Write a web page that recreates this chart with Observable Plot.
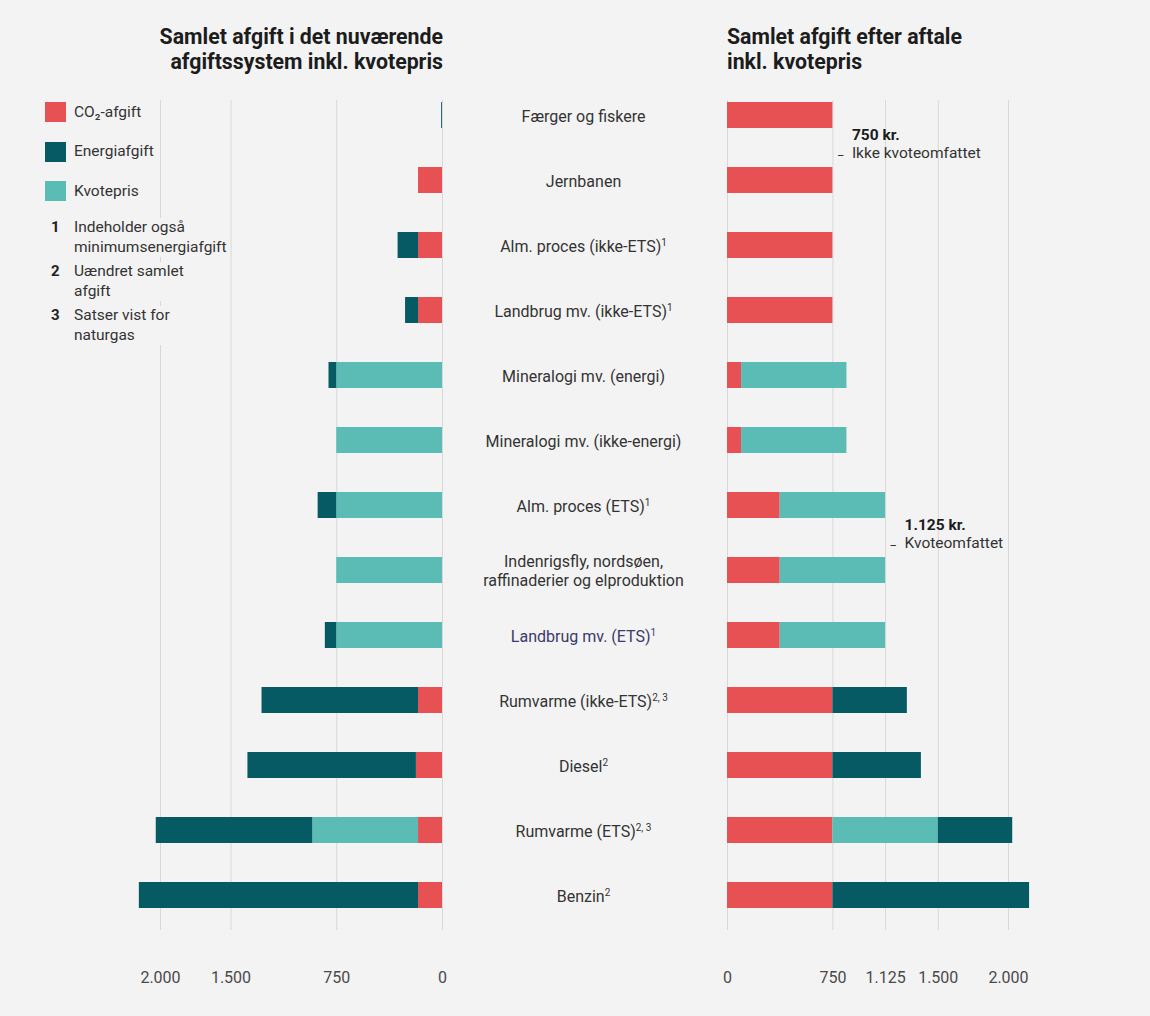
<!DOCTYPE html>
<html><head><meta charset="utf-8">
<script src="https://cdn.jsdelivr.net/npm/d3@7"></script>
<script src="https://cdn.jsdelivr.net/npm/@observablehq/plot@0.6"></script>
<style>
html,body{margin:0;padding:0;background:#f3f3f3;}
#root{position:relative;width:1150px;height:1016px;background:#f3f3f3;font-family:Roboto,sans-serif;overflow:hidden;}
.abs{position:absolute;}
.title{font-weight:700;font-size:21.3px;line-height:25px;color:#1c1c1c;white-space:pre-line;}
.lg{font-size:15.5px;color:#333;line-height:19.5px;white-space:pre-line;background:#f3f3f3;}
.num{font-size:15px;font-weight:700;color:#222;line-height:19.5px;}
.sw{width:21px;height:20px;}
</style></head><body><div id="root"></div>
<script>
// ---- data ----
const categories = [
  "Færger og fiskere", "Jernbanen", "Alm. proces (ikke-ETS)", "Landbrug mv. (ikke-ETS)",
  "Mineralogi mv. (energi)", "Mineralogi mv. (ikke-energi)", "Alm. proces (ETS)",
  "Indenrigsfly, nordsøen,\nraffinaderier og elproduktion", "Landbrug mv. (ETS)",
  "Rumvarme (ikke-ETS)", "Diesel", "Rumvarme (ETS)", "Benzin"
];
const footnotes = ["", "", "1", "1", "", "", "1", "", "1", "2, 3", "2", "2, 3", "2"];
const seriesNames = ["CO₂-afgift", "Energiafgift", "Kvotepris"];
const seriesColors = ["#e85153", "#065a63", "#5bbcb5"];

// Nuværende afgiftssystem (kr. pr. ton CO2)
const currentCO2    = [0, 170, 170, 170, 0, 0, 0, 0, 0, 170, 185, 170, 170];
const currentKvote  = [0, 0, 0, 0, 750, 750, 750, 750, 750, 0, 0, 750, 0];
const currentEnergy = [6, 0, 145, 92, 55, 0, 132, 0, 81, 1110, 1195, 1110, 1980];

// Efter aftale
const newCO2    = [750, 750, 750, 750, 100, 100, 375, 375, 375, 750, 750, 750, 750];
const newKvote  = [0, 0, 0, 0, 750, 750, 750, 750, 750, 0, 0, 750, 0];
const newEnergy = [0, 0, 0, 0, 0, 0, 0, 0, 0, 530, 630, 530, 1400];

const leftTicks = [0, 750, 1500, 2000];
const rightTicks = [0, 750, 1125, 1500, 2000];

const annotations = [
  {x: 750, cat: "Færger og fiskere", bold: "750 kr.", sub: "Ikke kvoteomfattet"},
  {x: 1125, cat: "Alm. proces (ETS)", bold: "1.125 kr.", sub: "Kvoteomfattet"}
];

const noteNumbers = ["1", "2", "3"];
const noteTexts = ["Indeholder også\nminimumsenergiafgift", "Uændret samlet\nafgift", "Satser vist for\nnaturgas"];

const titleLeft = "Samlet afgift i det nuværende\nafgiftssystem inkl. kvotepris";
const titleRight = "Samlet afgift efter aftale\ninkl. kvotepris";

// ---- build ----
const fmt = d3.formatLocale({decimal: ",", thousands: ".", grouping: [3], currency: ["", ""]}).format(",");
function toLong(co2, kvote, energy) {
  return categories.flatMap((c, i) => [
    {cat: c, type: seriesNames[0], value: co2[i]},
    {cat: c, type: seriesNames[2], value: kvote[i]},
    {cat: c, type: seriesNames[1], value: energy[i]}
  ]).filter(d => d.value > 0);
}
const stackOrder = [seriesNames[0], seriesNames[2], seriesNames[1]];
const yOpts = {domain: categories, paddingInner: 0.6, paddingOuter: 0.168, align: 0.09, axis: null};
const colorOpts = {domain: seriesNames, range: seriesColors};
const common = {height: 1016, marginTop: 100, marginBottom: 86,
  style: {background: "transparent", fontFamily: "Roboto, sans-serif", fontSize: "16px", color: "#4a4a4a", overflow: "visible"}};

const left = Plot.plot({
  ...common, width: 460, marginLeft: 160, marginRight: 18,
  x: {domain: [0, 2000], reverse: true},
  y: yOpts, color: colorOpts,
  marks: [
    Plot.gridX(leftTicks, {stroke: "#d8d8d8", strokeOpacity: 1}),
    Plot.barX(toLong(currentCO2, currentKvote, currentEnergy),
      Plot.stackX({x: "value", y: "cat", fill: "type", order: stackOrder})),
    Plot.axisX(leftTicks, {tickSize: 0, tickPadding: 41, tickFormat: fmt, fontSize: 16, label: null})
  ]
});

const right = Plot.plot({
  ...common, width: 690, marginLeft: 267, marginRight: 142,
  x: {domain: [0, 2000]},
  y: yOpts, color: colorOpts,
  marks: [
    Plot.gridX(rightTicks, {stroke: "#d8d8d8", strokeOpacity: 1}),
    Plot.barX(toLong(newCO2, newKvote, newEnergy),
      Plot.stackX({x: "value", y: "cat", fill: "type", order: stackOrder})),
    Plot.text(categories, {y: d => d, text: d => d, frameAnchor: "left", dx: -144, textAnchor: "middle",
      fontSize: 16, lineHeight: 1.2, fill: d => d === "Landbrug mv. (ETS)" ? "#3b3a6a" : "#333"}),
    Plot.text(annotations, {x: "x", y: "cat", text: "bold", dx: 19, dy: 20, textAnchor: "start",
      fontWeight: 700, fontSize: 15.5, fill: "#1c1c1c"}),
    Plot.text(annotations, {x: "x", y: "cat", text: "sub", dx: 19, dy: 37.5, textAnchor: "start",
      fontSize: 15.5, fill: "#333"}),
    Plot.text(annotations, {x: "x", y: "cat", text: () => "_", dx: 5, dy: 36, textAnchor: "start",
      fontSize: 12, fill: "#333"}),
    Plot.axisX(rightTicks, {tickSize: 0, tickPadding: 41, tickFormat: fmt, fontSize: 16, label: null})
  ]
});

// superscript footnotes on the category labels
right.querySelectorAll("text").forEach(t => {
  const i = categories.indexOf(t.textContent);
  if (i >= 0 && footnotes[i]) {
    const ts = document.createElementNS("http://www.w3.org/2000/svg", "tspan");
    ts.setAttribute("dy", "-6");
    ts.setAttribute("font-size", "10");
    ts.textContent = footnotes[i];
    t.appendChild(ts);
  }
});

const root = document.getElementById("root");
left.style.position = "absolute"; left.style.left = "0px"; left.style.top = "0px";
right.style.position = "absolute"; right.style.left = "460px"; right.style.top = "0px";
root.appendChild(left);
root.appendChild(right);

function div(cls, css, text) {
  const d = document.createElement("div");
  d.className = "abs " + cls;
  Object.assign(d.style, css);
  if (text != null) d.textContent = text;
  root.appendChild(d);
  return d;
}
div("title", {right: (1150 - 443) + "px", top: "24px", textAlign: "right"}, titleLeft);
div("title", {left: "727px", top: "24px", textAlign: "left"}, titleRight);

seriesNames.forEach((s, i) => {
  const top = 102 + i * 39.5;
  div("sw", {left: "45px", top: top + "px", background: seriesColors[i]});
  div("lg", {left: "74px", top: (top + 0.5) + "px", lineHeight: "19px"}, s);
});
noteNumbers.forEach((n, i) => {
  const top = 218 + i * 44;
  div("num", {left: "51px", top: top + "px"}, n);
  div("lg", {left: "74px", top: top + "px"}, noteTexts[i]);
});
</script></body></html>
